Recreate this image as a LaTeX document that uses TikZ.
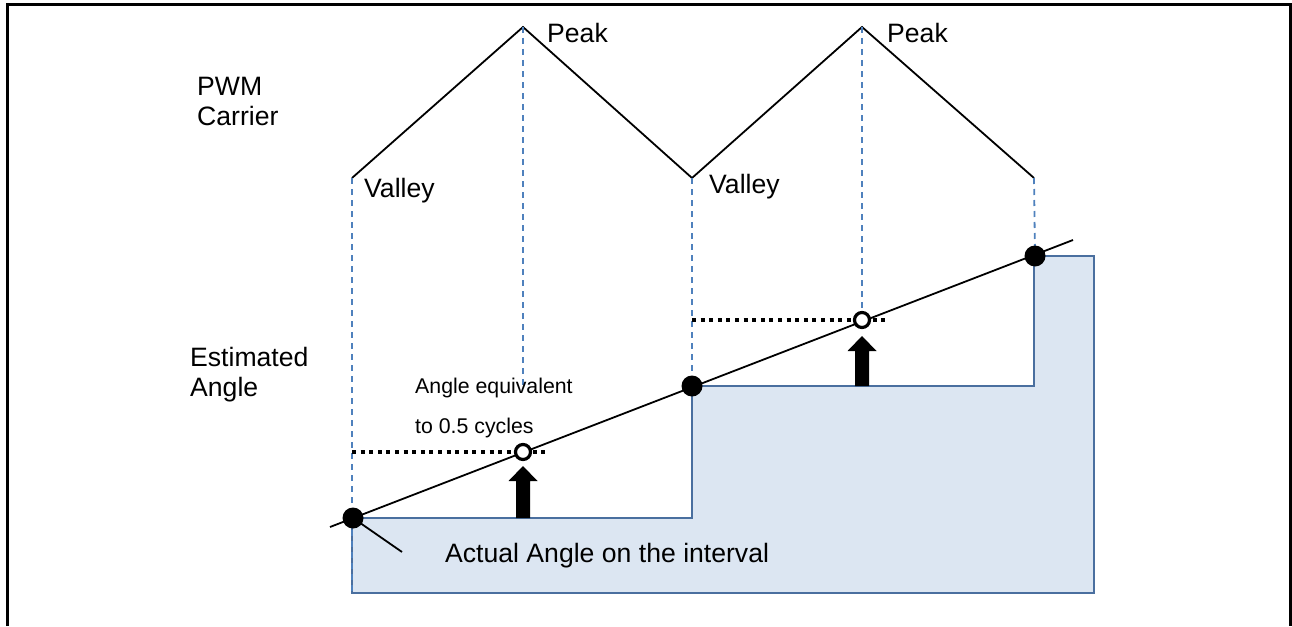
\documentclass[tikz,border=0pt]{standalone}
\usepackage{fontspec}
\setmainfont{Liberation Sans}
\begin{document}
\begin{tikzpicture}[x=1pt,y=-1pt,
  bigtxt/.style={inner sep=0pt,anchor=base west,font=\fontsize{26.6}{30}\selectfont},
  smalltxt/.style={inner sep=0pt,anchor=base west,font=\fontsize{21.3}{25}\selectfont},
  carrier/.style={line width=1.8pt,black,line join=miter},
  guide/.style={line width=1.8pt,color=guideblue,dash pattern=on 6pt off 5pt},
  levelline/.style={line width=4pt,dash pattern=on 4pt off 4.6pt},
  fulldot/.style={circle,fill=black,inner sep=0pt,minimum size=21pt},
  opendot/.style={circle,draw=black,fill=white,line width=3.2pt,inner sep=0pt,minimum size=15pt},
  uparrow/.style={fill=black}]
\definecolor{guideblue}{HTML}{4F81BD}
\definecolor{stepfill}{HTML}{DCE6F2}
\definecolor{stepdraw}{HTML}{4A6F9F}
\useasboundingbox (0,0) rectangle (1292,626);
% frame
\draw[line width=3pt] (7,626) -- (7,5) -- (1290,5) -- (1290,626);
% shaded staircase
\draw[fill=stepfill,draw=stepdraw,line width=2pt]
  (352,518) -- (692,518) -- (692,386) -- (1034,386) -- (1034,256) -- (1094,256)
  -- (1094,593) -- (352,593) -- cycle;
% carrier points
\coordinate (v1) at (352,178);
\coordinate (p1) at (523,27);
\coordinate (v2) at (692,178);
\coordinate (p2) at (862,27);
\coordinate (v3) at (1034,178);
\draw[carrier] (v1) -- (p1) -- (v2) -- (p2) -- (v3);
% samples
\coordinate (s1) at (353,518);
\coordinate (h1) at (523,452);
\coordinate (s2) at (692,386);
\coordinate (h2) at (862,320);
\coordinate (s3) at (1035,256);
% guides
\draw[guide] (v1) -- (352,593);
\draw[guide] (p1) -- (523,390);
\draw[guide] (v2) -- (s2);
\draw[guide] (p2) -- (h2);
\draw[guide] (v3) -- (s3);
% estimated angle line
\coordinate (lstart) at (330,527);
\coordinate (lend) at (1073,240);
\draw[line width=1.8pt] (lstart) -- (lend);
\coordinate (tickend) at (402,552);
\draw[line width=1.8pt] (s1) -- (tickend);
% dotted levels
\coordinate (d1a) at (352,452);
\coordinate (d1b) at (546,452);
\coordinate (d2a) at (692,320);
\coordinate (d2b) at (888,320);
\draw[levelline] (d1a) -- (d1b);
\draw[levelline] (d2a) -- (d2b);
% arrows
\fill[uparrow] (516,518) -- (516,481) -- (508.5,481) -- (523,466) -- (537.5,481) -- (530,481) -- (530,518) -- cycle;
\fill[uparrow] (855,386) -- (855,351) -- (847.5,351) -- (862,336) -- (876.5,351) -- (869,351) -- (869,386) -- cycle;
% dots
\node[fulldot] (S1) at (s1) {};
\node[fulldot] (S2) at (s2) {};
\node[fulldot] (S3) at (s3) {};
\node[opendot] (H1) at (h1) {};
\node[opendot] (H2) at (h2) {};
% texts
\node[bigtxt] (pwm) at (197,95) {PWM};
\node[bigtxt] (car) at (197,125) {Carrier};
\node[bigtxt] (est) at (190,366) {Estimated};
\node[bigtxt] (ang) at (190,396) {Angle};
\node[bigtxt] (val1) at (364,197) {Valley};
\node[bigtxt] (val2) at (709,193) {Valley};
\node[bigtxt] (pk1) at (547,43) {Peak};
\node[bigtxt] (pk2) at (887,43) {Peak};
\node[smalltxt] (eq1) at (415,393) {Angle equivalent};
\node[smalltxt] (eq2) at (415,433) {to 0.5 cycles};
\node[bigtxt] (act) at (445,562) {Actual Angle on the interval};
\end{tikzpicture}
\end{document}
